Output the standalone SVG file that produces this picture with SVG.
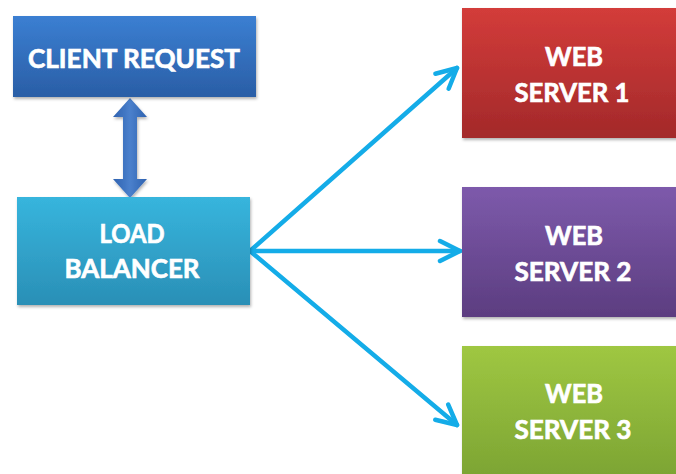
<svg xmlns="http://www.w3.org/2000/svg" width="676" height="474" viewBox="0 0 676 474">
<defs>
<linearGradient id="gBlue" x1="0" y1="0" x2="0" y2="1"><stop offset="0" stop-color="#3b7fd2"/><stop offset="1" stop-color="#2a5ea6"/></linearGradient>
<linearGradient id="gCyan" x1="0" y1="0" x2="0" y2="1"><stop offset="0" stop-color="#37b5dd"/><stop offset="1" stop-color="#2a8fb6"/></linearGradient>
<linearGradient id="gRed" x1="0" y1="0" x2="0" y2="1"><stop offset="0" stop-color="#d33c3a"/><stop offset="1" stop-color="#a3292a"/></linearGradient>
<linearGradient id="gPurple" x1="0" y1="0" x2="0" y2="1"><stop offset="0" stop-color="#7d5aab"/><stop offset="1" stop-color="#5c3d80"/></linearGradient>
<linearGradient id="gGreen" x1="0" y1="0" x2="0" y2="1"><stop offset="0" stop-color="#9fc742"/><stop offset="1" stop-color="#7aa232"/></linearGradient>
<linearGradient id="gArrow" x1="0" y1="0" x2="1" y2="0"><stop offset="0" stop-color="#2f62b0"/><stop offset="0.5" stop-color="#4a80cc"/><stop offset="1" stop-color="#2f62b0"/></linearGradient>
<filter id="sh" x="-10%" y="-10%" width="120%" height="130%"><feDropShadow dx="1" dy="2" stdDeviation="1.5" flood-color="#000" flood-opacity="0.3"/></filter>
<marker id="ah" viewBox="-2 -2 26 26" refX="21" refY="11" markerWidth="26" markerHeight="26" markerUnits="userSpaceOnUse" orient="auto"><path d="M1 1 L21 11 L1 21" fill="none" stroke="#14ace8" stroke-width="4.5" stroke-linecap="round" stroke-linejoin="round"/></marker>
</defs>
<style>
.t{font-family:Lato,"Open Sans","Liberation Sans",sans-serif;font-weight:bold;fill:#ffffff;stroke:#ffffff;stroke-width:0.7;font-size:27px;text-anchor:middle}
.c{fill:none;stroke:#14ace8;stroke-width:4.5;stroke-linecap:round}
</style>
<rect width="676" height="474" fill="#ffffff"/>
<g id="connectors">
<path d="M130 98 L147 117 L137 117 L137 179 L147 179 L130 198 L113 179 L123 179 L123 117 L113 117 Z" fill="url(#gArrow)" filter="url(#sh)"/>
<line class="c" x1="250" y1="251" x2="457" y2="68" marker-end="url(#ah)"/>
<line class="c" x1="250" y1="251" x2="460" y2="251" marker-end="url(#ah)"/>
<line class="c" x1="250" y1="251" x2="457" y2="425" marker-end="url(#ah)"/>
</g>
<g id="client-request">
<rect x="13" y="16" width="243" height="81" fill="url(#gBlue)" filter="url(#sh)"/>
<text class="t" x="134" y="68" textLength="212" lengthAdjust="spacingAndGlyphs">CLIENT REQUEST</text>
</g>
<g id="load-balancer">
<rect x="17" y="197" width="233" height="108" fill="url(#gCyan)" filter="url(#sh)"/>
<text class="t" x="132" y="243" textLength="65" lengthAdjust="spacingAndGlyphs">LOAD</text>
<text class="t" x="132" y="278" textLength="135" lengthAdjust="spacingAndGlyphs">BALANCER</text>
</g>
<g id="web-server-1">
<rect x="462" y="8" width="220" height="130" fill="url(#gRed)" filter="url(#sh)"/>
<text class="t" x="574" y="66" textLength="58" lengthAdjust="spacingAndGlyphs">WEB</text>
<text class="t" x="572" y="102" textLength="115" lengthAdjust="spacingAndGlyphs">SERVER 1</text>
</g>
<g id="web-server-2">
<rect x="462" y="187" width="220" height="130" fill="url(#gPurple)" filter="url(#sh)"/>
<text class="t" x="574" y="245" textLength="58" lengthAdjust="spacingAndGlyphs">WEB</text>
<text class="t" x="573" y="281" textLength="117" lengthAdjust="spacingAndGlyphs">SERVER 2</text>
</g>
<g id="web-server-3">
<rect x="462" y="346" width="220" height="140" fill="url(#gGreen)" filter="url(#sh)"/>
<text class="t" x="574" y="403" textLength="58" lengthAdjust="spacingAndGlyphs">WEB</text>
<text class="t" x="573" y="439" textLength="117" lengthAdjust="spacingAndGlyphs">SERVER 3</text>
</g>
</svg>
